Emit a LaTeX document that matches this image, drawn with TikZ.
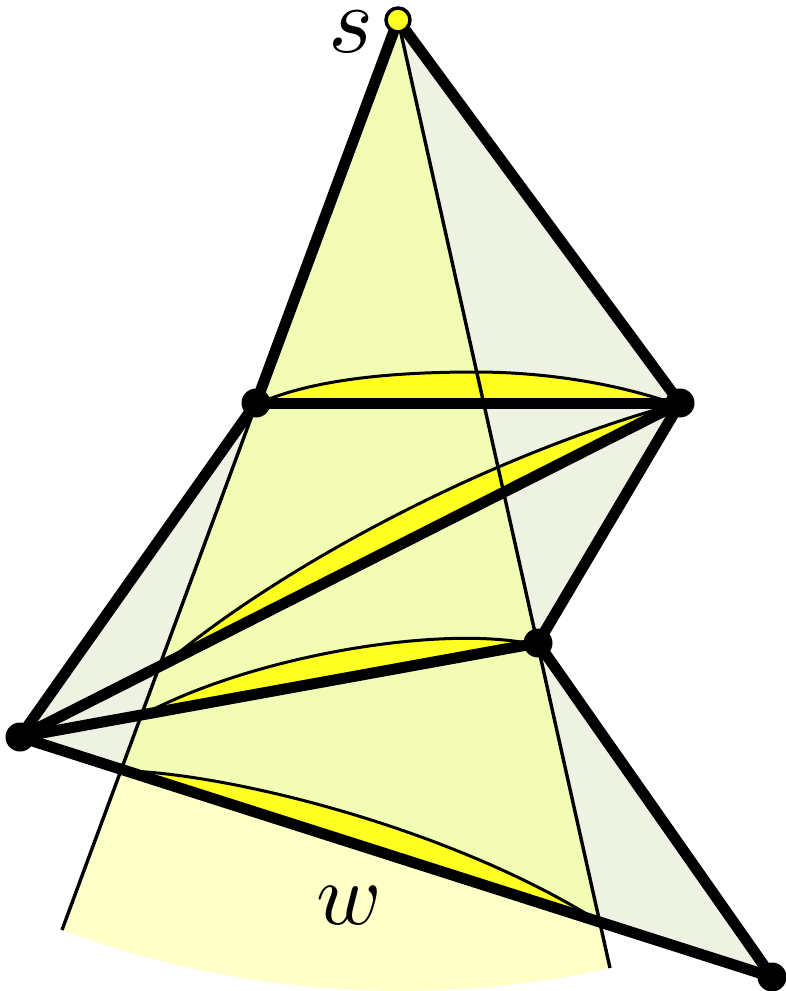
\documentclass[tikz,border=0pt]{standalone}
\definecolor{fanfill}{HTML}{FFFFC8}
\definecolor{polyfill}{HTML}{EEF2E2}
\definecolor{bothfill}{HTML}{F3FCB4}
\definecolor{lensfill}{HTML}{FFFF22}
\tikzset{
  edgeline/.style={draw=black,line width=11pt,line cap=round},
  rayline/.style={draw=black,line width=3.4pt},
  lensshape/.style={fill=lensfill,draw=black,line width=3pt,line join=round},
  vertexdot/.style={circle,fill=black,inner sep=0pt,minimum size=29pt},
  sourcedot/.style={circle,fill=lensfill,draw=black,line width=3.5pt,inner sep=0pt,minimum size=24pt},
  biglabel/.style={inner sep=0pt,scale=8.8}
}
\begin{document}
\begin{tikzpicture}[x=1pt,y=-1pt]
\useasboundingbox (0,0) rectangle (786,991);
\coordinate (S) at (398,20);
\coordinate (A) at (256,403);
\coordinate (B) at (680,403);
\coordinate (C) at (538,643);
\coordinate (D) at (20,737);
\coordinate (E) at (772,977);
\coordinate (RL) at (62,930);
\coordinate (RR) at (610,968);
\begin{scope}
\clip (0,0) rectangle (786,991);
% visibility fan
\fill[fanfill] (S) -- (RL) .. controls (237,994.7) and (428,1008.8) .. (RR) -- cycle;
% polygon
\fill[polyfill] (S) -- (B) -- (C) -- (E) -- (D) -- (A) -- cycle;
\begin{scope}
  \clip (S) -- (RL) .. controls (237,994.7) and (428,1008.8) .. (RR) -- cycle;
  \fill[bothfill] (S) -- (B) -- (C) -- (E) -- (D) -- (A) -- cycle;
\end{scope}
% lenses
\draw[lensshape] (264,401) .. controls (320,378) and (400,372) .. (475,372) .. controls (550,372) and (620,385) .. (672,403) -- cycle;
\draw[lensshape] (165,664) .. controls (270,575) and (470,462) .. (672,405) -- cycle;
\draw[lensshape] (150,711) .. controls (260,655) and (440,625) .. (532,644) -- cycle;
\draw[lensshape] (130,771) .. controls (230,775) and (440,825) .. (590,916) -- cycle;
% rays
\draw[rayline] (S) -- (RL);
\draw[rayline] (S) -- (RR);
% polygon edges
\draw[edgeline] (S) -- (A);
\draw[edgeline] (S) -- (B);
\draw[edgeline] (A) -- (B);
\draw[edgeline] (A) -- (D);
\draw[edgeline] (B) -- (D);
\draw[edgeline] (B) -- (C);
\draw[edgeline] (C) -- (D);
\draw[edgeline] (C) -- (E);
\draw[edgeline] (D) -- (E);
\end{scope}
% vertices
\node[vertexdot] (vA) at (A) {};
\node[vertexdot] (vB) at (B) {};
\node[vertexdot] (vC) at (C) {};
\node[vertexdot] (vD) at (D) {};
\node[vertexdot] (vE) at (E) {};
\node[sourcedot] (vS) at (S) {};
\node[inner sep=0pt,scale=9.6] (ls) at (351,32) {$s$};
\node[biglabel] (lw) at (349,906) {$w$};
\end{tikzpicture}
\end{document}
